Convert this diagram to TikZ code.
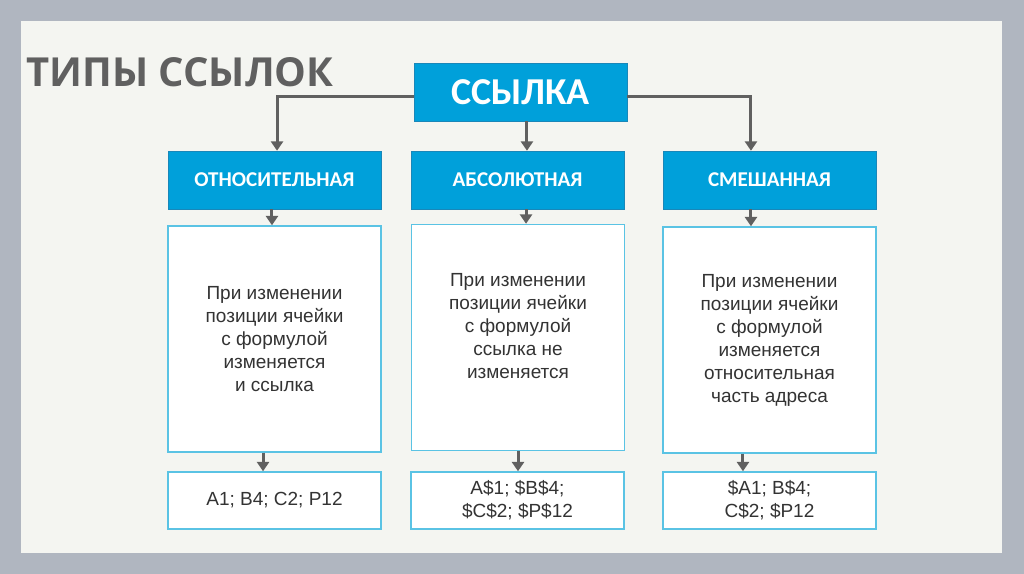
\documentclass[tikz,border=0pt]{standalone}
\usepackage{fontspec}
\setmainfont{Liberation Sans}
\newfontfamily\headfont{Open Sans}
\newfontfamily\boxfont{Carlito}
\usetikzlibrary{arrows.meta}
\definecolor{linkblue}{RGB}{0,160,218}
\definecolor{linkborder}{RGB}{25,135,185}
\definecolor{linklight}{RGB}{90,195,228}
\definecolor{linkgray}{RGB}{96,96,96}
\definecolor{linktext}{RGB}{51,51,51}
\definecolor{framegray}{RGB}{176,182,192}
\definecolor{panelbg}{RGB}{244,245,241}

\begin{document}
\begin{tikzpicture}[x=0.75pt, y=-0.75pt,
    levelbox/.style={draw=linkborder, fill=linkblue, text=white, minimum width=159.75pt, minimum height=43.5pt, font=\boxfont\bfseries\fontsize{15.8}{19}\selectfont},
    rootbox/.style={levelbox, font=\boxfont\bfseries\fontsize{28.5}{34}\selectfont},
    descbox/.style={draw=linklight, line width=1.1pt, fill=white, minimum width=159.75pt, minimum height=169.5pt, align=center, text=linktext, font=\fontsize{14.25}{17.25}\selectfont},
    codebox/.style={descbox, minimum height=42.75pt},
    arr/.style={draw=linkgray, line width=2.25pt, -{Triangle[width=9pt,length=7pt]}}
  ]
    % Frame and panel
    \fill[framegray] (0,0) rectangle (1024,574);
    \fill[panelbg] (21,21) rectangle (1002,553);

    % Title
    \node[anchor=base west, inner sep=0pt, text=linkgray, font=\headfont\bfseries\fontsize{30}{34}\selectfont] (title) at (26,87) {ТИПЫ ССЫЛОК};

    % Top box
    \node[rootbox] (link) at (520.5,92) {ССЫЛКА};

    % Kinds of links
    \node[levelbox] (rel) at (274.5,180) {ОТНОСИТЕЛЬНАЯ};
    \node[levelbox] (abs) at (517.5,180) {АБСОЛЮТНАЯ};
    \node[levelbox] (mix) at (769.5,180) {СМЕШАННАЯ};

    % Descriptions
    \node[descbox] (reldesc) at (274.5,339) {При изменении\\позиции ячейки\\с формулой\\изменяется\\и ссылка};
    \node[descbox] (absdesc) at (518,337.5) {При изменении\\позиции ячейки\\с формулой\\ссылка не\\изменяется\\~};
    \node[descbox] (mixdesc) at (769.5,340) {При изменении\\позиции ячейки\\с формулой\\изменяется\\относительная\\часть адреса};

    % Examples
    \node[codebox] (relcode) at (274.5,500.5) {A1; B4; C2; P12};
    \node[codebox] (abscode) at (517.5,500.5) {A\$1; \$B\$4;\\\$C\$2; \$P\$12};
    \node[codebox] (mixcode) at (769.5,500.5) {\$A1; B\$4;\\C\$2; \$P12};

    % Arrows from the top box
    \coordinate (relin) at ([xshift=1.9pt]rel.north);
    \coordinate (absin) at ([xshift=7.1pt]abs.north);
    \coordinate (mixin) at ([xshift=-13.9pt]mix.north);
    \draw[arr] ([yshift=-3.5pt]link.west) -| (relin);
    \draw[arr] (absin |- link.south) -- (absin);
    \draw[arr] ([yshift=-3.5pt]link.east) -| (mixin);

    % Arrows down each column
    \coordinate (relout) at ([xshift=-1.9pt]rel.south);
    \coordinate (absout) at ([xshift=6.4pt]abs.south);
    \coordinate (mixout) at ([xshift=-13.9pt]mix.south);
    \draw[arr] (relout) -- (relout |- reldesc.north);
    \draw[arr] (absout) -- (absout |- absdesc.north);
    \draw[arr] (mixout) -- (mixout |- mixdesc.north);

    \coordinate (reldown) at ([xshift=-8.6pt]reldesc.south);
    \coordinate (absdown) at (absdesc.south);
    \coordinate (mixdown) at ([xshift=-19.9pt]mixdesc.south);
    \draw[arr] (reldown) -- (reldown |- relcode.north);
    \draw[arr] (absdown) -- (absdown |- abscode.north);
    \draw[arr] (mixdown) -- (mixdown |- mixcode.north);
  \end{tikzpicture}
\end{document}
